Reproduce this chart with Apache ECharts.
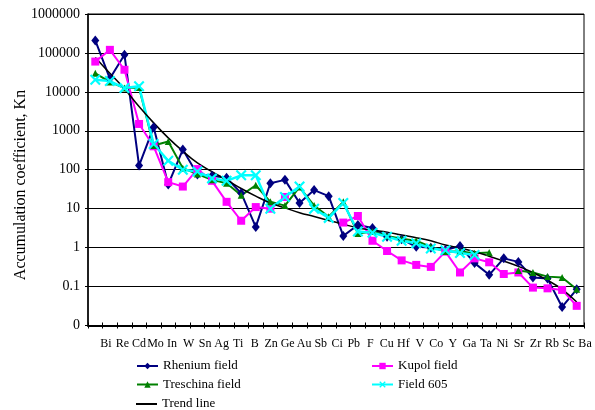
<!DOCTYPE html>
<html>
<head>
<meta charset="utf-8">
<script src="https://cdn.jsdelivr.net/npm/echarts@6/dist/echarts.min.js"></script>
<style>
  html, body { margin: 0; padding: 0; background: #fff; }
  #chart { width: 595px; height: 410px; }
</style>
</head>
<body>
<div id="chart"></div>
<script>
// Element labels printed under the axis
const elementLabels = ['Bi','Re','Cd','Mo','In','W','Sn','Ag','Ti','B','Zn','Ge','Au','Sb','Ci',
  'Pb','F','Cu','Hf','V','Co','Y','Ga','Ta','Ni','Sr','Zr','Rb','Sc','Ba'];

// Sample slots along the category axis
const slots = ['1','2','3','4','5','6','7','8','9','10','11','12','13','14','15','16','17',
  '18','19','20','21','22','23','24','25','26','27','28','29','30','31','32','33','34'];

// Accumulation coefficients, Kn (null = not determined)
const rhenium = [210000, 22000, 90000, 128, 1240, 42, 330, 75, 70, 62, 25, 3.4, 45, 55, 14, 30, 21,
  2.0, 3.8, 3.2, 1.9, 1.65, 1.05, 1.0, 0.87, 1.1, 0.4, 0.2, 0.53, 0.43, 0.17, 0.16, 0.03, 0.085];
const kupol = [60000, 120000, 37000, 1500, 400, 48, 37, 104, 52, 15, 4.9, 11, 10, 20, null, null, null,
  4.4, 6.5, 1.5, 0.82, 0.47, 0.36, 0.32, 0.79, 0.23, 0.53, 0.42, 0.21, 0.23, 0.094, 0.09, 0.082, 0.032];
const treschina = [30000, 18000, 12500, 13000, 420, 530, 110, 78, 55, 45, 22, 40, 15, 12, 36, 12, 6.2,
  15, 2.3, 2.6, 2.0, 1.7, 1.5, 1.05, 0.79, 0.8, 0.72, 0.75, null, 0.26, 0.23, 0.18, 0.17, 0.085];
const field605 = [20500, 19000, 12500, 14000, 460, 170, 100, 90, 60, 52, 72, 72, 10, 20, 37, 10, 5.8,
  14, 2.6, 2.4, 1.9, 1.5, 1.3, 0.95, 0.86, 0.73, 0.65, null, null, null, null, null, null, null];
const trend = [76000, 30000, 12000, 4200, 1600, 660, 300, 150, 89, 55, 33, 21, 14, 10.5, 7.9, 6.3, 5.0,
  4.0, 3.2, 2.8, 2.5, 2.1, 1.8, 1.5, 1.17, 0.98, 0.79, 0.6, 0.45, 0.33, 0.23, 0.145, 0.085, 0.04];

const FONT = 'Liberation Serif';
const crossSymbol = 'path://M0,1.4L1.4,0L5,3.6L8.6,0L10,1.4L6.4,5L10,8.6L8.6,10L5,6.4L1.4,10L0,8.6L3.6,5Z';

const chart = echarts.init(document.getElementById('chart'), null, { renderer: 'canvas' });

function lineSeries(name, data, color, symbol, size, width) {
  return {
    name, type: 'line', data,
    xAxisIndex: 0, yAxisIndex: 0,
    symbol, symbolSize: size, showSymbol: true, showAllSymbol: true,
    lineStyle: { color, width },
    itemStyle: { color, borderWidth: 0 },
    emphasis: { disabled: true },
    animation: false
  };
}

// One legend entry per row/column, laid out like the printed key
function legendItem(name, left, top, icon, itemHeight) {
  const entry = icon ? { name, icon } : name;
  return {
    orient: 'horizontal', left, top, padding: 0, itemWidth: 21, itemHeight: itemHeight || 8,
    data: [entry], selectedMode: false,
    textStyle: { fontFamily: FONT, fontSize: 13, color: '#000' }
  };
}

chart.setOption({
  animation: false,
  backgroundColor: '#fff',
  textStyle: { fontFamily: FONT, color: '#000' },
  grid: [
    { left: 88, right: 11, top: 14, bottom: 84.5, show: true, borderColor: '#000', borderWidth: 1, backgroundColor: 'transparent' },
    { left: 97.7, right: 1.7, top: 14, bottom: 84.5 }
  ],
  xAxis: [
    {
      type: 'category', gridIndex: 0, data: slots, boundaryGap: true,
      axisLine: { show: true, lineStyle: { color: '#000', width: 2 } },
      axisTick: { show: true, interval: 0, length: 3, lineStyle: { color: '#000', width: 1 } },
      axisLabel: { show: false }, splitLine: { show: false }
    },
    {
      type: 'category', gridIndex: 0, data: slots, boundaryGap: true, position: 'bottom',
      axisLine: { show: false },
      axisTick: { show: true, inside: true, interval: 0, length: 3, lineStyle: { color: '#000', width: 1 } },
      axisLabel: { show: false }, splitLine: { show: false }
    },
    {
      type: 'category', gridIndex: 1, data: elementLabels, boundaryGap: true,
      axisLine: { show: false }, axisTick: { show: false }, splitLine: { show: false },
      axisLabel: { show: true, interval: 0, margin: 12, fontFamily: FONT, fontSize: 12, color: '#000' }
    }
  ],
  yAxis: [
    {
      type: 'log', logBase: 10, min: 0.01, max: 1000000, gridIndex: 0,
      axisLine: { show: true, lineStyle: { color: '#000', width: 1.5 } },
      axisTick: { show: true, length: 3, lineStyle: { color: '#000', width: 1 } },
      splitLine: { show: true, lineStyle: { color: '#000', width: 1 } },
      axisLabel: {
        margin: 8, fontFamily: FONT, fontSize: 14, color: '#000',
        formatter: v => (v < 0.05 ? '0' : String(Number(v.toPrecision(1))))
      }
    },
    { type: 'value', gridIndex: 1, show: false }
  ],
  legend: [
    legendItem('Rhenium field', 136, 359.5),
    legendItem('Treschina field', 136, 378),
    legendItem('Trend line', 136, 397.5, 'rect', 2),
    legendItem('Kupol field', 371, 359.5),
    legendItem('Field 605', 371, 378)
  ],
  graphic: [
    {
      type: 'text', x: 21, y: 185, rotation: Math.PI / 2,
      style: {
        text: 'Accumulation coefficient, Kn', fontFamily: FONT, fontSize: 16,
        fill: '#000', textAlign: 'center', textVerticalAlign: 'middle'
      }
    }
  ],
  series: [
    lineSeries('Rhenium field', rhenium, '#000080', 'diamond', [8, 10], 2),
    lineSeries('Kupol field', kupol, '#FF00FF', 'rect', 8, 2),
    lineSeries('Treschina field', treschina, '#008000', 'triangle', 7, 2),
    lineSeries('Field 605', field605, '#00FFFF', crossSymbol, 11, 2.5),
    Object.assign(lineSeries('Trend line', trend, '#000000', 'none', 0, 1.5), { smooth: 0.4, showSymbol: false })
  ]
});
</script>
</body>
</html>
